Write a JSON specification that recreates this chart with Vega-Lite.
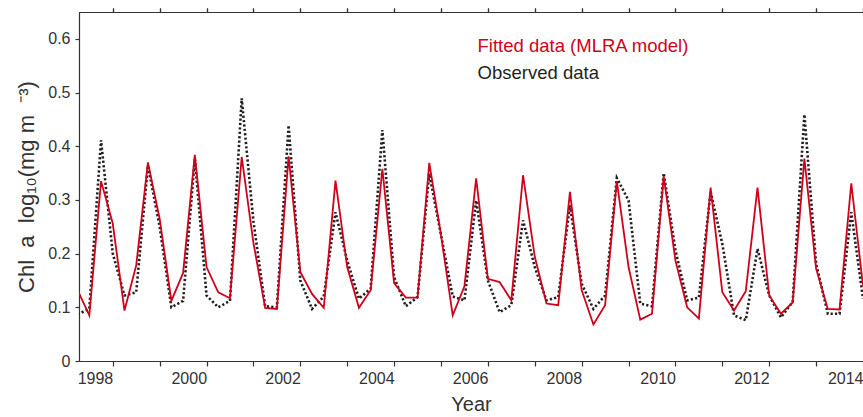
{
  "$schema": "https://vega.github.io/schema/vega-lite/v6.json",
  "width": 784,
  "height": 349,
  "autosize": "none",
  "padding": {"left": 79, "top": 12, "right": 0, "bottom": 56},
  "background": "white",
  "config": {
    "font": "Liberation Sans",
    "view": {"stroke": "#999999", "strokeWidth": 1},
    "axis": {"grid": false, "domainColor": "#333333", "tickColor": "#333333", "labelColor": "#333333", "titleColor": "#333333", "titleFontWeight": "normal", "domainWidth": 1.2, "tickWidth": 1.2},
    "axisTop": {"labels": false, "labelOpacity": 0, "tickSize": 4, "titleOpacity": 0, "titleFontSize": 1}
  },
  "datasets": {
    "series": [
      {"year": 1997.25, "fitted": 0.132, "observed": 0.087},
      {"year": 1997.5, "fitted": 0.085, "observed": 0.097},
      {"year": 1997.75, "fitted": 0.335, "observed": 0.411},
      {"year": 1998.0, "fitted": 0.256, "observed": 0.2},
      {"year": 1998.25, "fitted": 0.094, "observed": 0.122},
      {"year": 1998.5, "fitted": 0.178, "observed": 0.128},
      {"year": 1998.75, "fitted": 0.37, "observed": 0.364},
      {"year": 1999.0, "fitted": 0.265, "observed": 0.25},
      {"year": 1999.25, "fitted": 0.112, "observed": 0.1},
      {"year": 1999.5, "fitted": 0.164, "observed": 0.112},
      {"year": 1999.75, "fitted": 0.384, "observed": 0.377},
      {"year": 2000.0, "fitted": 0.175, "observed": 0.122},
      {"year": 2000.25, "fitted": 0.128, "observed": 0.1},
      {"year": 2000.5, "fitted": 0.117, "observed": 0.112},
      {"year": 2000.75, "fitted": 0.38, "observed": 0.489},
      {"year": 2001.0, "fitted": 0.22, "observed": 0.26},
      {"year": 2001.25, "fitted": 0.099, "observed": 0.102},
      {"year": 2001.5, "fitted": 0.097, "observed": 0.1},
      {"year": 2001.75, "fitted": 0.381, "observed": 0.439},
      {"year": 2002.0, "fitted": 0.166, "observed": 0.15},
      {"year": 2002.25, "fitted": 0.125, "observed": 0.097},
      {"year": 2002.5, "fitted": 0.099, "observed": 0.12},
      {"year": 2002.75, "fitted": 0.336, "observed": 0.277},
      {"year": 2003.0, "fitted": 0.175, "observed": 0.187},
      {"year": 2003.25, "fitted": 0.099, "observed": 0.116},
      {"year": 2003.5, "fitted": 0.132, "observed": 0.135},
      {"year": 2003.75, "fitted": 0.358, "observed": 0.43},
      {"year": 2004.0, "fitted": 0.145, "observed": 0.156},
      {"year": 2004.25, "fitted": 0.118, "observed": 0.102},
      {"year": 2004.5, "fitted": 0.118, "observed": 0.119},
      {"year": 2004.75, "fitted": 0.369, "observed": 0.349},
      {"year": 2005.0, "fitted": 0.235, "observed": 0.235},
      {"year": 2005.25, "fitted": 0.085, "observed": 0.12},
      {"year": 2005.5, "fitted": 0.139, "observed": 0.113},
      {"year": 2005.75, "fitted": 0.34, "observed": 0.299},
      {"year": 2006.0, "fitted": 0.153, "observed": 0.15},
      {"year": 2006.25, "fitted": 0.147, "observed": 0.091},
      {"year": 2006.5, "fitted": 0.113, "observed": 0.104},
      {"year": 2006.75, "fitted": 0.346, "observed": 0.262},
      {"year": 2007.0, "fitted": 0.194, "observed": 0.175},
      {"year": 2007.25, "fitted": 0.107, "observed": 0.113},
      {"year": 2007.5, "fitted": 0.104, "observed": 0.119},
      {"year": 2007.75, "fitted": 0.315, "observed": 0.29},
      {"year": 2008.0, "fitted": 0.132, "observed": 0.144},
      {"year": 2008.25, "fitted": 0.068, "observed": 0.097},
      {"year": 2008.5, "fitted": 0.104, "observed": 0.122},
      {"year": 2008.75, "fitted": 0.335, "observed": 0.341},
      {"year": 2009.0, "fitted": 0.175, "observed": 0.299},
      {"year": 2009.25, "fitted": 0.077, "observed": 0.107},
      {"year": 2009.5, "fitted": 0.088, "observed": 0.102},
      {"year": 2009.75, "fitted": 0.344, "observed": 0.35},
      {"year": 2010.0, "fitted": 0.187, "observed": 0.206},
      {"year": 2010.25, "fitted": 0.1, "observed": 0.113},
      {"year": 2010.5, "fitted": 0.079, "observed": 0.118},
      {"year": 2010.75, "fitted": 0.323, "observed": 0.315},
      {"year": 2011.0, "fitted": 0.128, "observed": 0.218},
      {"year": 2011.25, "fitted": 0.094, "observed": 0.085},
      {"year": 2011.5, "fitted": 0.13, "observed": 0.076},
      {"year": 2011.75, "fitted": 0.323, "observed": 0.209},
      {"year": 2012.0, "fitted": 0.122, "observed": 0.122},
      {"year": 2012.25, "fitted": 0.088, "observed": 0.081},
      {"year": 2012.5, "fitted": 0.109, "observed": 0.11},
      {"year": 2012.75, "fitted": 0.377, "observed": 0.459},
      {"year": 2013.0, "fitted": 0.172, "observed": 0.181},
      {"year": 2013.25, "fitted": 0.097, "observed": 0.088},
      {"year": 2013.5, "fitted": 0.096, "observed": 0.088},
      {"year": 2013.75, "fitted": 0.331, "observed": 0.277},
      {"year": 2014.0, "fitted": 0.14, "observed": 0.116}
    ],
    "legend": [
      {"year": 2005.78, "value": 0.5754, "label": "Fitted data (MLRA model)", "series": "Fitted"},
      {"year": 2005.78, "value": 0.526, "label": "Observed data", "series": "Observed"}
    ]
  },
  "layer": [
    {
      "data": {"name": "series"},
      "mark": {"type": "line", "color": "#231f20", "strokeWidth": 2.6, "strokeDash": [2.2, 2.2], "clip": true},
      "encoding": {
        "x": {
          "field": "year", "type": "quantitative",
          "scale": {"domain": [1997.28, 2014.0], "nice": false, "zero": false},
          "axis": {
            "orient": "bottom",
            "values": [1998, 1999, 2000, 2001, 2002, 2003, 2004, 2005, 2006, 2007, 2008, 2009, 2010, 2011, 2012, 2013, 2014],
            "labelExpr": "datum.value % 2 === 0 ? toString(datum.value) : ''",
            "labelAlign": "right",
            "labelFontSize": 16,
            "labelPadding": 4,
            "labelOverlap": false,
            "labelFlush": false,
            "labelBound": false,
            "tickSize": 5,
            "title": "Year",
            "titleFontSize": 20,
            "titlePadding": 8
          }
        },
        "y": {
          "field": "observed", "type": "quantitative",
          "scale": {"domain": [0, 0.65], "nice": false},
          "axis": {
            "values": [0, 0.05, 0.1, 0.15, 0.2, 0.25, 0.3, 0.35, 0.4, 0.45, 0.5, 0.55, 0.6],
            "labelExpr": "round(datum.value * 100) % 10 === 0 ? format(datum.value, '.1~f') : ''",
            "labelFontSize": 16,
            "labelPadding": 5,
            "labelOverlap": false,
            "tickSize": 4,
            "title": "Chl\u00a0\u00a0a\u00a0\u00a0log\u2081\u2080(mg\u00a0m\u00a0\u00a0\u207b\u00b3)",
            "titleFontSize": 22,
            "titlePadding": 9
          }
        }
      }
    },
    {
      "data": {"name": "series"},
      "mark": {"type": "line", "color": "#d0021b", "strokeWidth": 1.8, "clip": true},
      "encoding": {
        "x": {"field": "year", "type": "quantitative"},
        "y": {"field": "fitted", "type": "quantitative"}
      }
    },
    {
      "data": {"name": "legend"},
      "mark": {"type": "text", "align": "left", "baseline": "alphabetic", "fontSize": 18.5},
      "encoding": {
        "x": {
          "field": "year", "type": "quantitative", "title": null,
          "axis": {
            "orient": "top",
            "values": [1998, 1999, 2000, 2001, 2002, 2003, 2004, 2005, 2006, 2007, 2008, 2009, 2010, 2011, 2012, 2013, 2014],
            "labels": false,
            "labelExpr": "''",
            "tickSize": 4,
            "title": null
          }
        },
        "y": {"field": "value", "type": "quantitative"},
        "text": {"field": "label"},
        "color": {
          "field": "series", "type": "nominal",
          "scale": {"domain": ["Fitted", "Observed"], "range": ["#d0021b", "#231f20"]},
          "legend": null
        }
      }
    }
  ]
}
